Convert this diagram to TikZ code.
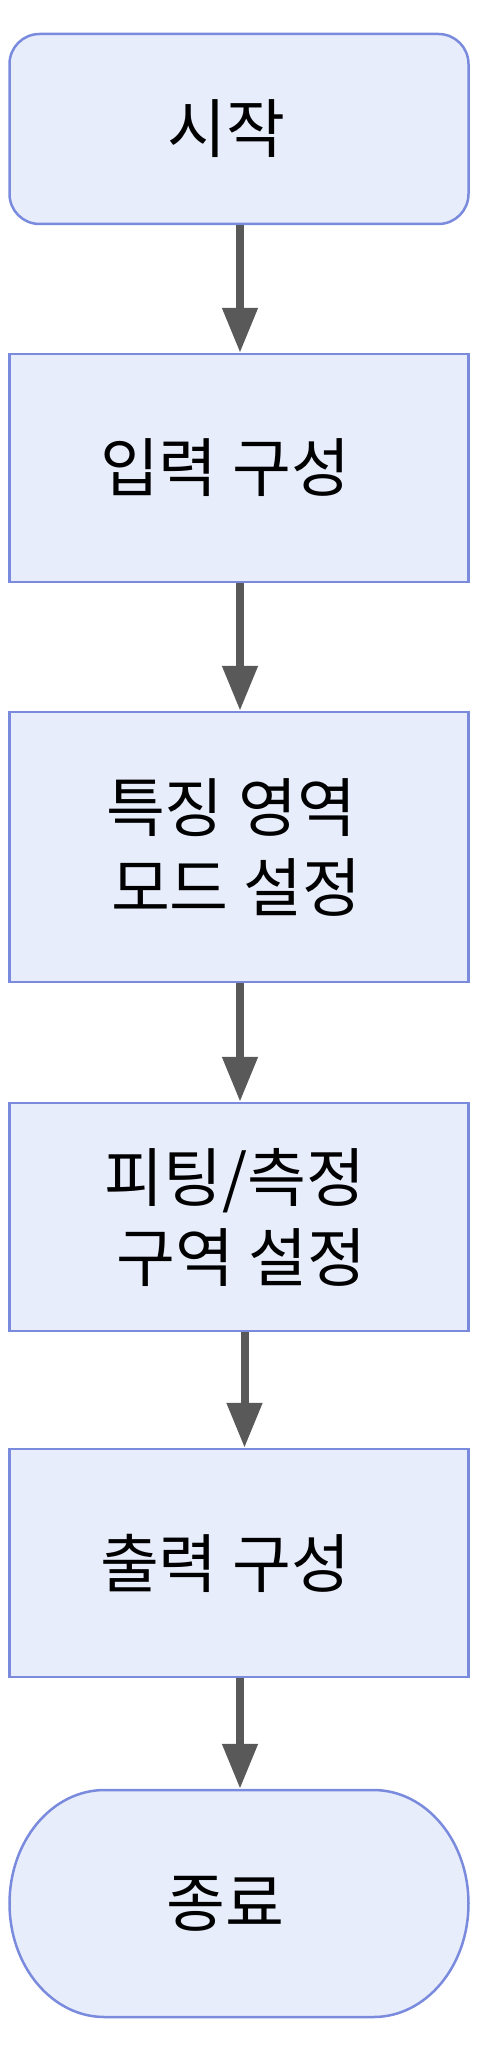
\documentclass[tikz,border=0pt]{standalone}
\usepackage{fontspec}
\newfontfamily\krfont{Noto Sans CJK KR}
\usetikzlibrary{arrows.meta,positioning,calc}
\definecolor{boxfill}{HTML}{E8EDFB}
\definecolor{boxline}{HTML}{7A8BDE}
\definecolor{flowgray}{HTML}{595959}
% invisible padding beside a line
\newcommand{\padr}[1]{\rule{#1}{0pt}}

\begin{document}
\begin{tikzpicture}[x=1pt,y=-1pt,
    process/.style={draw=boxline,fill=boxfill,line width=2.5pt,minimum width=459pt,inner sep=0pt,align=center,font=\krfont\fontsize{64}{80}\selectfont},
    terminal/.style={process,rounded corners=30pt},
    flow/.style={-{Triangle[length=45pt,width=34pt]},line width=8pt,flowgray}
  ]
    % Canvas
    \useasboundingbox (0,0) rectangle (488,2052);

    % Stadium outline for the end node (elliptic ends)
    \coordinate (sw) at (9.5,1790);
    \coordinate (se) at (468.5,1790);
    \draw[draw=boxline,fill=boxfill,line width=2.5pt]
      ($(sw)+(95,0)$) -- ($(se)+(-95,0)$)
      .. controls ($(se)+(-42.5,0)$) and ($(se)+(0,50.8)$) .. ($(se)+(0,113.5)$)
      .. controls ($(se)+(0,176.2)$) and ($(se)+(-42.5,227)$) .. ($(se)+(-95,227)$)
      -- ($(sw)+(95,227)$)
      .. controls ($(sw)+(42.5,227)$) and ($(sw)+(0,176.2)$) .. ($(sw)+(0,113.5)$)
      .. controls ($(sw)+(0,50.8)$) and ($(sw)+(42.5,0)$) .. cycle;

    % Flow nodes, top to bottom
    \node[terminal,minimum height=190pt] (start) at (239,129) {시작\padr{26pt}};
    \node[process,minimum height=228pt] (input) at (239,468) {입력 구성\padr{28pt}};
    \node[process,minimum height=270pt] (feature) at (239,847) {특징 영역\padr{16pt}\\모드 설정\padr{6pt}};
    \node[process,minimum height=228pt] (fitting) at (239,1217) {피팅/측정\padr{8pt}\\\padr{5pt}구역 설정};
    \node[process,minimum height=228pt] (output) at (239,1563) {출력 구성\padr{28pt}};
    \node[process,draw=none,fill=none,minimum height=227pt] (stop) at (239,1903.5) {종료\padr{28pt}};

    % Connections
    \draw[flow] ([xshift=1pt]start.south) -- ([xshift=1pt]input.north);
    \draw[flow] ([xshift=1pt]input.south) -- ([xshift=1pt]feature.north);
    \draw[flow] ([xshift=1pt]feature.south) -- ([xshift=1pt]fitting.north);
    \draw[flow] ([xshift=5.5pt]fitting.south) -- ([xshift=5.5pt]output.north);
    \draw[flow] ([xshift=1pt]output.south) -- ([xshift=1pt]stop.north);
  \end{tikzpicture}
\end{document}
